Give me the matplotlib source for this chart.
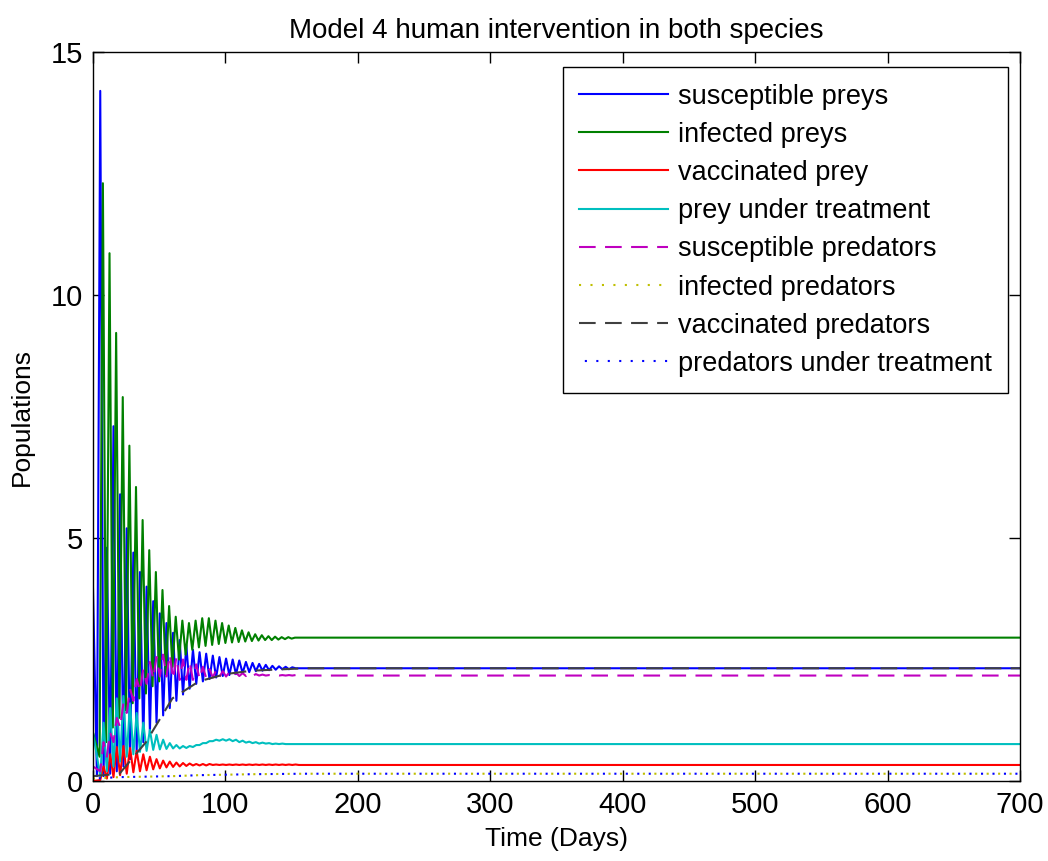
import matplotlib
matplotlib.use("Agg")
import matplotlib.pyplot as plt
import numpy as np

# cycle layout (period about 5 days)
cycle = np.arange(30)
blue_peak_t = 5.5 + 5 * cycle
green_peak_t = 7.5 + 5 * cycle
small_peak_t = 8.0 + 5 * cycle

# susceptible preys
blue_start = 4.0
blue_peaks = [14.2, 4.8, 7.3, 5.9, 5.2, 4.7, 4.3, 4.0, 3.7, 3.45,
              3.25, 3.05, 2.9, 2.8, 2.7, 2.65, 2.62, 2.58, 2.55, 2.52,
              2.5, 2.48, 2.45, 2.43, 2.41, 2.39, 2.37, 2.36, 2.35, 2.34]
blue_troughs = [0.1, 0.1, 0.15, 0.2, 0.3, 0.45, 0.6, 0.8, 1.0, 1.2,
                1.35, 1.5, 1.65, 1.78, 1.9, 2.0, 2.05, 2.1, 2.13, 2.16,
                2.18, 2.2, 2.22, 2.24, 2.26, 2.27, 2.28, 2.29, 2.3, 2.3]
blue_end = 2.32

# infected preys
green_start = 1.0
green_peaks = [12.3, 10.86, 9.22, 7.9, 6.9, 6.05, 5.37, 4.75, 4.3, 3.93,
               3.6, 3.38, 3.3, 3.25, 3.3, 3.35, 3.35, 3.3, 3.25, 3.2,
               3.15, 3.1, 3.06, 3.02, 3.0, 2.98, 2.97, 2.96, 2.96, 2.95]
green_troughs = [0.5, 0.8, 1.1, 1.3, 1.45, 1.6, 1.7, 1.8, 1.95, 2.05,
                 2.2, 2.35, 2.5, 2.6, 2.7, 2.75, 2.78, 2.8, 2.82, 2.84,
                 2.85, 2.86, 2.87, 2.88, 2.89, 2.9, 2.9, 2.91, 2.92, 2.93]
green_end = 2.95

# vaccinated prey
red_start = 0.0
red_peaks = [0.3, 0.55, 0.7, 0.72, 0.68, 0.62, 0.55, 0.5, 0.45, 0.42,
             0.4, 0.38, 0.37, 0.36, 0.35, 0.35, 0.35, 0.34, 0.34, 0.34,
             0.34, 0.34, 0.34, 0.34, 0.34, 0.34, 0.34, 0.34, 0.34, 0.34]
red_troughs = [0.02, 0.05, 0.08, 0.12, 0.15, 0.18, 0.2, 0.22, 0.24, 0.26,
               0.28, 0.29, 0.3, 0.31, 0.32, 0.32, 0.32, 0.33, 0.33, 0.33,
               0.33, 0.33, 0.33, 0.33, 0.33, 0.33, 0.33, 0.33, 0.33, 0.33]
red_end = 0.33

# prey under treatment
cyan_start = 1.0
cyan_peaks = [1.2, 1.5, 1.7, 1.75, 1.6, 1.4, 1.2, 1.05, 0.95, 0.85,
              0.78, 0.74, 0.72, 0.72, 0.74, 0.78, 0.82, 0.85, 0.86, 0.86,
              0.85, 0.83, 0.81, 0.8, 0.79, 0.78, 0.77, 0.77, 0.76, 0.76]
cyan_troughs = [0.1, 0.2, 0.3, 0.4, 0.5, 0.55, 0.6, 0.62, 0.64, 0.65,
                0.66, 0.67, 0.67, 0.68, 0.7, 0.74, 0.78, 0.82, 0.83, 0.83,
                0.82, 0.8, 0.79, 0.78, 0.77, 0.77, 0.76, 0.76, 0.76, 0.76]
cyan_end = 0.76

# susceptible predators
purple_start = 0.3
purple_peaks = [0.8, 1.0, 1.3, 1.6, 1.9, 2.1, 2.3, 2.45, 2.55, 2.6,
                2.6, 2.55, 2.5, 2.45, 2.4, 2.35, 2.3, 2.28, 2.26, 2.24,
                2.23, 2.22, 2.21, 2.2, 2.19, 2.18, 2.18, 2.18, 2.18, 2.18]
purple_troughs = [0.2, 0.5, 0.8, 1.1, 1.4, 1.65, 1.85, 2.0, 2.1, 2.15,
                  2.15, 2.1, 2.08, 2.08, 2.08, 2.1, 2.12, 2.13, 2.14, 2.15,
                  2.15, 2.16, 2.16, 2.16, 2.17, 2.17, 2.17, 2.17, 2.17, 2.17]
purple_end = 2.17

# slow series, read at a few times
slow_t = [0, 20, 40, 60, 80, 100, 120, 160, 700]
infected_pred = [0.05, 0.08, 0.09, 0.1, 0.12, 0.13, 0.14, 0.15, 0.15]
vaccinated_pred = [0.1, 0.15, 0.8, 1.7, 2.05, 2.2, 2.27, 2.32, 2.32]
treated_pred = [0.05, 0.08, 0.09, 0.1, 0.12, 0.13, 0.14, 0.15, 0.15]

t_end = 700


def zigzag(start, peak_t, peaks, troughs, end):
    peak_t = np.asarray(peak_t, dtype=float)
    t = np.empty(2 * len(peak_t))
    v = np.empty(2 * len(peak_t))
    t[0::2] = peak_t - 2.5
    t[1::2] = peak_t
    v[0::2] = troughs
    v[1::2] = peaks
    t = np.concatenate([[0], t, [t[-1] + 2.5, t_end]])
    v = np.concatenate([[start], v, [end, end]])
    return t, v


plt.rcParams['font.family'] = ['Liberation Sans', 'DejaVu Sans']

fig = plt.figure(figsize=(10.48, 8.61), dpi=100)
ax = fig.add_axes([0.0887, 0.0929, 0.8846, 0.8467])

lw = 1.5
ax.plot(*zigzag(blue_start, blue_peak_t, blue_peaks, blue_troughs, blue_end),
        color=(0, 0, 1), lw=lw, label='susceptible preys')
ax.plot(*zigzag(green_start, green_peak_t, green_peaks, green_troughs, green_end),
        color=(0, 0.5, 0), lw=lw, label='infected preys')
ax.plot(*zigzag(red_start, small_peak_t, red_peaks, red_troughs, red_end),
        color=(1, 0, 0), lw=lw, label='vaccinated prey')
ax.plot(*zigzag(cyan_start, small_peak_t, cyan_peaks, cyan_troughs, cyan_end),
        color=(0, 0.75, 0.75), lw=lw, label='prey under treatment')
ax.plot(*zigzag(purple_start, small_peak_t, purple_peaks, purple_troughs, purple_end),
        color=(0.75, 0, 0.75), lw=lw, linestyle=(0, (8, 4.5)),
        label='susceptible predators')
ax.plot(slow_t, infected_pred, color=(0.75, 0.75, 0), lw=lw,
        linestyle=(0, (1, 4.5)), label='infected predators')
ax.plot(slow_t, vaccinated_pred, color=(0.25, 0.25, 0.25), lw=lw,
        linestyle=(0, (8, 4.5)), label='vaccinated predators')
ax.plot(slow_t, treated_pred, color=(0, 0, 1), lw=lw,
        linestyle=(2.7, (1, 4.5)), label='predators under treatment')

ax.set_xlim(0, 700)
ax.set_ylim(0, 15)
ax.set_xticks(range(0, 701, 100))
ax.set_yticks([0, 5, 10, 15])
ax.tick_params(direction='in', top=True, right=True, length=8, width=1,
               labelsize=21, pad=7)
for s in ax.spines.values():
    s.set_linewidth(1.0)

ax.set_title('Model 4 human intervention in both species', fontsize=20, pad=10)
ax.set_xlabel('Time (Days)', fontsize=19, labelpad=6)
ax.set_ylabel('Populations', fontsize=19, labelpad=12)

leg = ax.legend(loc='upper right', fontsize=19.5, frameon=True, fancybox=False,
                edgecolor='black', framealpha=1, handlelength=3.3,
                handletextpad=0.35, labelspacing=0.45, borderpad=0.6,
                borderaxespad=0, bbox_to_anchor=(0.987, 0.979))
leg.get_frame().set_linewidth(1.0)

fig.savefig('out.png', dpi=100, facecolor='white')
